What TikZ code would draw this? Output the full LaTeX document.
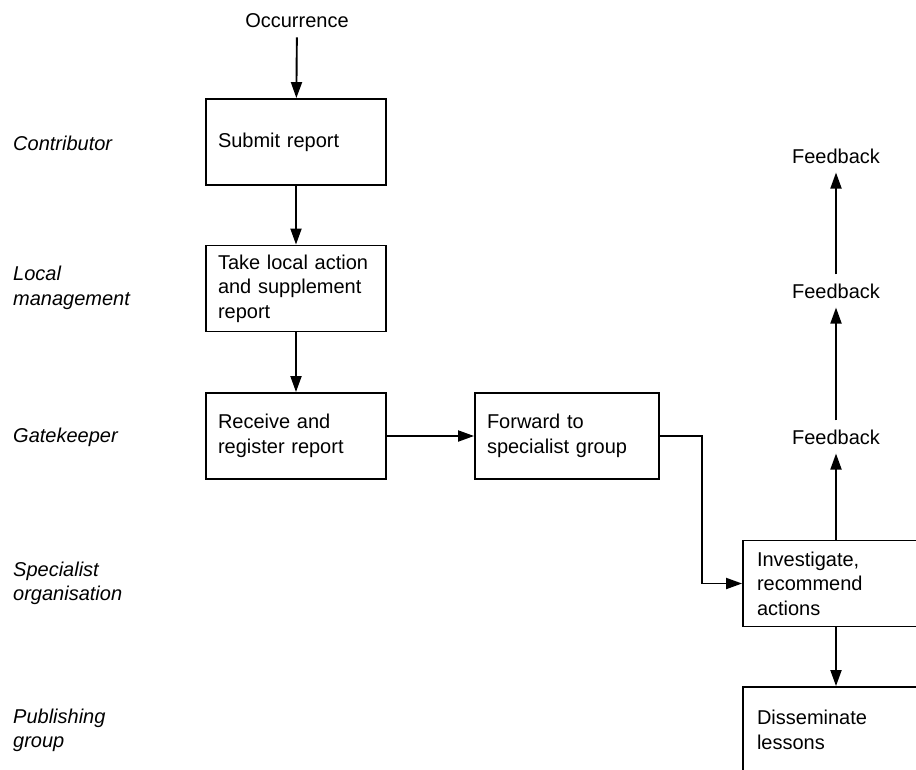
\documentclass[tikz,border=0pt]{standalone}
\usepackage{fontspec}
\setmainfont{Liberation Sans}
\usetikzlibrary{arrows.meta}

\tikzset{
  stepbox/.style={draw, line width=1.9pt, align=left, inner xsep=12pt,
    minimum height=86pt, font=\fontsize{20}{24.5}\selectfont},
  lane/.style={anchor=west, align=left, inner sep=0pt,
    font=\fontsize{20}{24.5}\selectfont\itshape},
  plain/.style={inner xsep=2pt, inner ysep=9pt, font=\fontsize{20}{24.5}\selectfont},
  arr/.style={line width=1.9pt, -{Triangle[length=16pt,width=11pt]}},
}

\begin{document}
\begin{tikzpicture}[x=1pt, y=-1pt]
  \useasboundingbox (0,0) rectangle (916,769);
  \clip (0,0) rectangle (916,769);

  % role labels down the left side
  \node[lane] (l1) at (13,143) {Contributor};
  \node[lane] (l2) at (13,288) {Local\\management};
  \node[lane] (l3) at (13,437) {Gatekeeper};
  \node[lane] (l4) at (13,583.5) {Specialist\\organisation};
  \node[lane] (l5) at (13,730.5) {Publishing\\group};

  % process steps
  \node[plain] (occ) at (297,21) {Occurrence};
  \node[stepbox, text width=156pt] (submit) at (296,142) {Submit report};
  \node[stepbox, text width=156pt] (take) at (296,288.5) {Take local action\\and supplement\\report};
  \node[stepbox, text width=156pt] (rec) at (296,436) {Receive and\\register report};
  \node[stepbox, text width=160pt] (fwd) at (567,436) {Forward to\\specialist group};
  \node[stepbox, text width=158pt, inner xsep=14pt] (inv) at (836,583.5) {Investigate,\\recommend\\actions};
  \node[stepbox, text width=158pt, inner xsep=14pt] (dis) at (836,730) {Disseminate\\lessons};

  % feedback chain
  \node[plain] (fb3) at (836,437) {Feedback};
  \node[plain] (fb2) at (836,291) {Feedback};
  \node[plain] (fb1) at (836,156) {Feedback};

  % connectors
  \draw[arr] (occ) -- (submit);
  \draw[arr] (submit) -- (take);
  \draw[arr] (take) -- (rec);
  \draw[arr] (rec) -- (fwd);
  \coordinate (bend) at (702,436);
  \draw[arr] (fwd.east) -- (bend) |- (inv.west);
  \draw[arr] (inv) -- (dis);
  \draw[arr] (inv) -- (fb3);
  \draw[arr] (fb3) -- (fb2);
  \draw[arr] (fb2) -- (fb1);
\end{tikzpicture}
\end{document}
